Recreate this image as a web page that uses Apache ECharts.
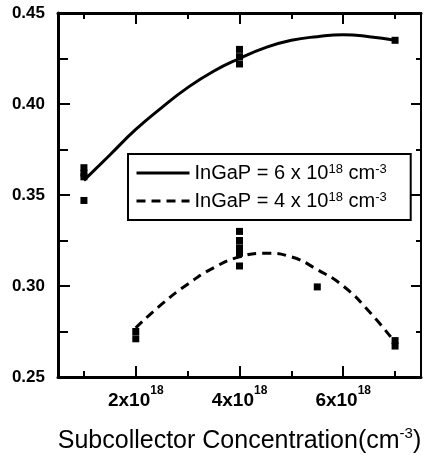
<!DOCTYPE html>
<html>
<head>
<meta charset="utf-8">
<script src="https://cdn.jsdelivr.net/npm/echarts@6/dist/echarts.min.js"></script>
<style>
html,body{margin:0;padding:0;background:#fff;}
#c{width:425px;height:455px;}
</style>
</head>
<body>
<div id="c"></div>
<script>
// x values in units of 1e18 cm^-3
const xMajorTicks = [2, 4, 6];
const xMinorTicks = [1, 3, 5, 7];
const yTicks = [0.25, 0.30, 0.35, 0.40, 0.45];

// measured points, InGaP = 6e18
const pts6X = [1, 1, 1, 1, 4, 4, 4, 7];
const pts6Y = [0.365, 0.362, 0.360, 0.347, 0.430, 0.426, 0.422, 0.435];
// measured points, InGaP = 4e18
const pts4X = [2, 2, 4, 4, 4, 4, 4, 5.5, 7, 7];
const pts4Y = [0.271, 0.275, 0.330, 0.325, 0.321, 0.318, 0.311, 0.2995, 0.267, 0.270];

// fit curves
const fit6X = [1, 1.5, 2, 2.5, 3, 3.5, 4, 4.5, 5, 5.5, 6, 6.5, 7];
const fit6Y = [0.358, 0.372, 0.386, 0.398, 0.409, 0.418, 0.425, 0.431, 0.435, 0.437, 0.438, 0.437, 0.435];
const fit4X = [2, 2.5, 3, 3.5, 4, 4.5, 5, 5.5, 6, 6.5, 7];
const fit4Y = [0.277, 0.290, 0.301, 0.310, 0.316, 0.318, 0.316, 0.309, 0.300, 0.286, 0.269];

const name6 = 'InGaP = 6 x 10^18 cm^-3';
const name4 = 'InGaP = 4 x 10^18 cm^-3';

const zip = (a, b) => a.map((v, i) => [v, b[i]]);
const FONT = 'Liberation Sans';

function xAx(pos, ticks, len, lineW, showLine, showLabel) {
  return {
    type: 'value', position: pos, min: 0.5, max: 7.5,
    axisLine: {show: showLine, onZero: false, lineStyle: {color: '#000', width: lineW}},
    axisTick: {show: true, inside: true, length: len, customValues: ticks, lineStyle: {color: '#000', width: 2}},
    axisLabel: showLabel ? {
      show: true, customValues: ticks, margin: 8,
      formatter: v => '{b|' + v + 'x10}{s|18}',
      rich: {
        b: {fontFamily: FONT, fontWeight: 'bold', fontSize: 19, color: '#000', padding: [6, 0, 0, 0]},
        s: {fontFamily: FONT, fontWeight: 'bold', fontSize: 12, color: '#000', verticalAlign: 'top'}
      }
    } : {show: false},
    splitLine: {show: false}
  };
}
function yAx(pos, lineW, major, minor, showLabel) {
  return {
    type: 'value', position: pos, min: 0.25, max: 0.45, interval: 0.05,
    axisLine: {show: true, onZero: false, lineStyle: {color: '#000', width: lineW}},
    axisTick: {show: true, inside: true, length: major, lineStyle: {color: '#000', width: 2}},
    minorTick: {show: true, splitNumber: 2, length: minor, lineStyle: {color: '#000', width: 2}},
    axisLabel: showLabel ? {
      show: true, margin: 13, color: '#000', fontFamily: FONT, fontWeight: 'bold', fontSize: 17,
      formatter: v => v.toFixed(2)
    } : {show: false},
    splitLine: {show: false}, minorSplitLine: {show: false}
  };
}

const xBottom = xAx('bottom', xMajorTicks, 11, 3, true, true);
xBottom.name = '{n|Subcollector Concentration(cm}{s|-3}{n|)}';
xBottom.nameLocation = 'middle';
xBottom.nameGap = 49;
xBottom.nameTextStyle = {
  fontFamily: FONT, fontSize: 25, color: '#000',
  rich: {
    n: {fontFamily: FONT, fontSize: 25, color: '#000', padding: [3, 0, 0, 0]},
    s: {fontFamily: FONT, fontSize: 15, color: '#000', verticalAlign: 'top'}
  }
};

const legendRich = {
  n: {fontFamily: FONT, fontSize: 20, color: '#000'},
  s: {fontFamily: FONT, fontSize: 13, color: '#000', verticalAlign: 'top'}
};
function legendFmt(name) {
  const m = name.match(/^(.*) x 10\^(\d+) cm\^(-\d+)$/);
  return '{n|' + m[1] + ' x 10}{s|' + m[2] + '}{n| cm}{s|' + m[3] + '}';
}

const chart = echarts.init(document.getElementById('c'), null, {renderer: 'canvas'});
chart.setOption({
  backgroundColor: '#fff',
  animation: false,
  grid: {left: 58, right: 4, top: 13, bottom: 78, containLabel: false, outerBoundsMode: 'none'},
  xAxis: [
    xBottom,
    xAx('bottom', xMinorTicks, 6, 3, false, false),
    xAx('top', xMajorTicks, 11, 3, true, false),
    xAx('top', xMinorTicks, 6, 3, false, false)
  ],
  yAxis: [
    yAx('left', 3, 12, 10, true),
    yAx('right', 2, 10, 5, false)
  ],
  legend: {
    data: [name6, name4],
    orient: 'vertical', left: 128, top: 154,
    padding: [9, 24, 9, 7], itemGap: 8,
    itemWidth: 53, itemHeight: 3,
    itemStyle: {opacity: 0},
    lineStyle: {width: 3, color: '#000'},
    borderColor: '#000', borderWidth: 2, backgroundColor: '#fff',
    formatter: legendFmt,
    textStyle: {fontFamily: FONT, fontSize: 20, color: '#000', rich: legendRich}
  },
  series: [
    {
      name: name6, type: 'line', data: zip(fit6X, fit6Y), smooth: true,
      showSymbol: false, symbol: 'none',
      lineStyle: {color: '#000', width: 3, type: 'solid'}, itemStyle: {color: '#000'}, z: 2
    },
    {
      name: name4, type: 'line', data: zip(fit4X, fit4Y), smooth: true,
      showSymbol: false, symbol: 'none',
      lineStyle: {color: '#000', width: 3, type: [9, 6]}, itemStyle: {color: '#000'}, z: 2
    },
    {
      name: 'pts6', type: 'scatter', data: zip(pts6X, pts6Y),
      symbol: 'rect', symbolSize: 7, itemStyle: {color: '#000', opacity: 1}, z: 3
    },
    {
      name: 'pts4', type: 'scatter', data: zip(pts4X, pts4Y),
      symbol: 'rect', symbolSize: 7, itemStyle: {color: '#000', opacity: 1}, z: 3
    }
  ]
});
</script>
</body>
</html>
